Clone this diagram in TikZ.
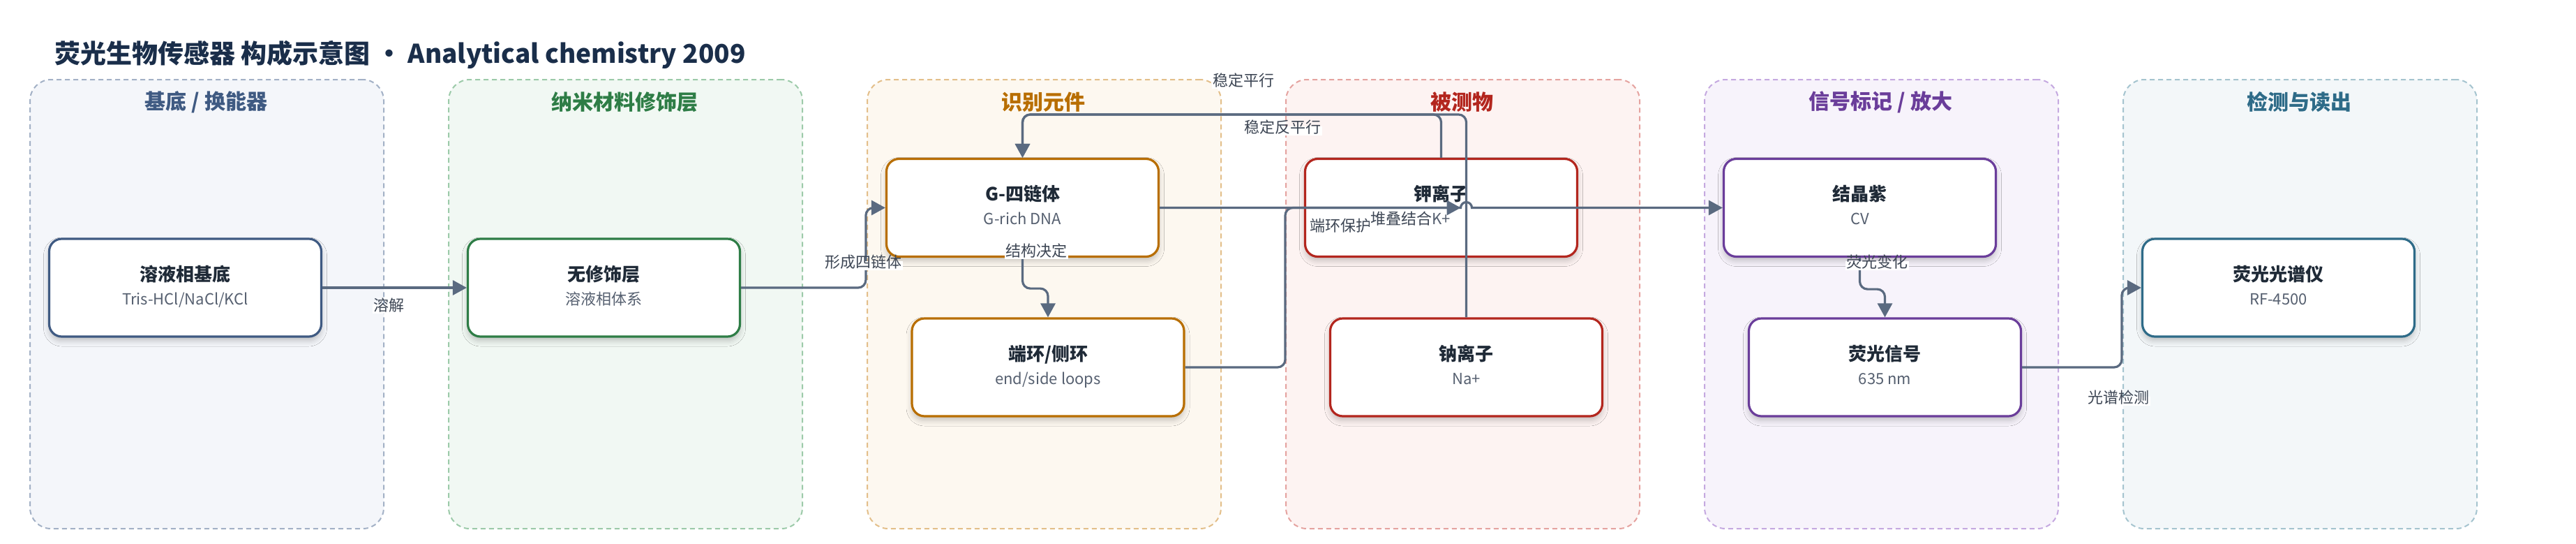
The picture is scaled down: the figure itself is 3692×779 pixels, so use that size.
\documentclass[tikz,border=0pt]{standalone}
\usepackage{fontspec}
\setmainfont{Noto Sans CJK SC}
\usetikzlibrary{arrows.meta,calc,shadows.blur}
\definecolor{titlec}{HTML}{1A2E4A}
\definecolor{edgec}{HTML}{5A6A80}
\definecolor{labc}{HTML}{3D4654}
\definecolor{ntc}{HTML}{1F2A37}
\definecolor{nsc}{HTML}{566070}
\definecolor{gAfill}{HTML}{F4F6FA}\definecolor{gAdraw}{HTML}{A3B1C6}\definecolor{gAc}{HTML}{3F5A82}
\definecolor{gBfill}{HTML}{F1F8F3}\definecolor{gBdraw}{HTML}{9CCAA9}\definecolor{gBc}{HTML}{2E7D46}
\definecolor{gCfill}{HTML}{FDF8F0}\definecolor{gCdraw}{HTML}{E3BF8A}\definecolor{gCc}{HTML}{B86E00}
\definecolor{gDfill}{HTML}{FDF3F2}\definecolor{gDdraw}{HTML}{E5A3A0}\definecolor{gDc}{HTML}{B3261E}
\definecolor{gEfill}{HTML}{F7F3FB}\definecolor{gEdraw}{HTML}{C5A9E0}\definecolor{gEc}{HTML}{6A3D9A}
\definecolor{gFfill}{HTML}{F3F7F9}\definecolor{gFdraw}{HTML}{A5C4CF}\definecolor{gFc}{HTML}{2E6B88}
\tikzset{
  grp/.style={line width=2pt, dash pattern=on 7pt off 5pt, rounded corners=30pt,
    minimum width=507pt, minimum height=643pt, anchor=north west, inner sep=0pt},
  gtitle/.style={font=\bfseries\fontsize{30}{36}\selectfont, inner sep=0pt},
  nodebox/.style={fill=white, line width=3.2pt, rounded corners=18pt,
    minimum width=390pt, minimum height=140pt, inner sep=0pt,
    blur shadow={shadow xshift=0pt, shadow yshift=-6pt, shadow blur radius=8pt, shadow opacity=22}},
  ntitle/.style={font=\bfseries\fontsize{26}{30}\selectfont, text=ntc, inner sep=0pt, text height=0.8em, text depth=0.2em},
  nsub/.style={font=\fontsize{22}{26}\selectfont, text=nsc, inner sep=0pt, text height=0.8em, text depth=0.2em},
  edge/.style={draw=edgec, line width=3.2pt, -{Triangle[length=20pt,width=21pt]}, rounded corners=11pt},
  elabel/.style={font=\fontsize{22}{26}\selectfont, text=labc, fill=white, inner sep=1.5pt, text height=0.8em, text depth=0.2em}
}
\newcommand\bnode[6]{%
  \node[nodebox, draw=#4] (#1) at (#2,#3) {};
  \node[ntitle] (#1-t) at ($(#1.center)+(0,-13)$) {#5};
  \node[nsub] (#1-s) at ($(#1.center)+(0,21)$) {#6};}
\begin{document}
\begin{tikzpicture}[x=1pt,y=-1pt]
\useasboundingbox (0,0) rectangle (3692,779);
\node[anchor=west, inner sep=0pt, text=titlec, font=\bfseries\fontsize{37}{44}\selectfont] (title) at (78,78)
  {荧光生物传感器 构成示意图 • Analytical chemistry 2009};
% groups
\node[grp, draw=gAdraw, fill=gAfill] (g1) at (42,113) {};
\node[grp, draw=gBdraw, fill=gBfill] (g2) at (642,113) {};
\node[grp, draw=gCdraw, fill=gCfill] (g3) at (1242,113) {};
\node[grp, draw=gDdraw, fill=gDfill] (g4) at (1842,113) {};
\node[grp, draw=gEdraw, fill=gEfill] (g5) at (2442,113) {};
\node[grp, draw=gFdraw, fill=gFfill] (g6) at (3042,113) {};
\node[gtitle, text=gAc] (g1t) at (295.5,146) {基底 / 换能器};
\node[gtitle, text=gBc] (g2t) at (895.5,146) {纳米材料修饰层};
\node[gtitle, text=gCc] (g3t) at (1495.5,146) {识别元件};
\node[gtitle, text=gDc] (g4t) at (2095.5,146) {被测物};
\node[gtitle, text=gEc] (g5t) at (2695.5,146) {信号标记 / 放大};
\node[gtitle, text=gFc] (g6t) at (3295.5,146) {检测与读出};
% nodes
\bnode{sub}{265.5}{412}{gAc}{溶液相基底}{Tris-HCl/NaCl/KCl}
\bnode{nano}{865.5}{412}{gBc}{无修饰层}{溶液相体系}
\bnode{G}{1465.5}{297.5}{gCc}{G-四链体}{G-rich DNA}
\bnode{D}{1502}{526}{gCc}{端环/侧环}{end/side loops}
\bnode{K}{2065.5}{297.5}{gDc}{钾离子}{K+}
\bnode{N}{2101.5}{526}{gDc}{钠离子}{Na+}
\bnode{CV}{2665.5}{297.5}{gEc}{结晶紫}{CV}
\bnode{F}{2701.5}{526}{gEc}{荧光信号}{635 nm}
\bnode{S}{3265.5}{412}{gFc}{荧光光谱仪}{RF-4500}
\coordinate (topline) at (0,164);
\coordinate (jn) at (1842,297.5);
% edges
\draw[edge] (sub.east) -- (nano.west);
\draw[edge] (nano.east) -| ($(G.west)+(-28,0)$) -- (G.west);
\draw[edge] (G.south) -- ($(G.south)+(0,44)$) -| (D.north);
\draw[edge] (K.north) -- (K.north |- topline) -| (G.north);
\draw[edge] (N.north) -- (N.north |- topline) -| (G.north);
\draw[edge, sharp corners] (G.east) -- ($(N.north |- G.east)+(-8,0)$) arc[start angle=180, end angle=0, radius=8pt] -- (CV.west);
\draw[edge] (D.east) -| (jn) -- ($(N.north |- G.east)+(-8,0)$);
\draw[edge] (CV.south) -- ($(CV.south)+(0,45)$) -| (F.north);
\draw[edge] (F.east) -| ($(S.west)+(-28,0)$) -- (S.west);
% labels
\node[elabel] (l1) at (557,442) {溶解};
\node[elabel] (l2) at (1237,380) {形成四链体};
\node[elabel] (l3) at (1485,364) {结构决定};
\node[elabel] (l4) at (1782,120) {稳定平行};
\node[elabel] (l5) at (1838,187) {稳定反平行};
\node[elabel] (l6) at (1921,328) {端环保护};
\node[elabel] (l7) at (2008,318) {堆叠结合};
\node[elabel] (l8) at (2690,380) {荧光变化};
\node[elabel] (l9) at (3036,574) {光谱检测};
\end{tikzpicture}
\end{document}
